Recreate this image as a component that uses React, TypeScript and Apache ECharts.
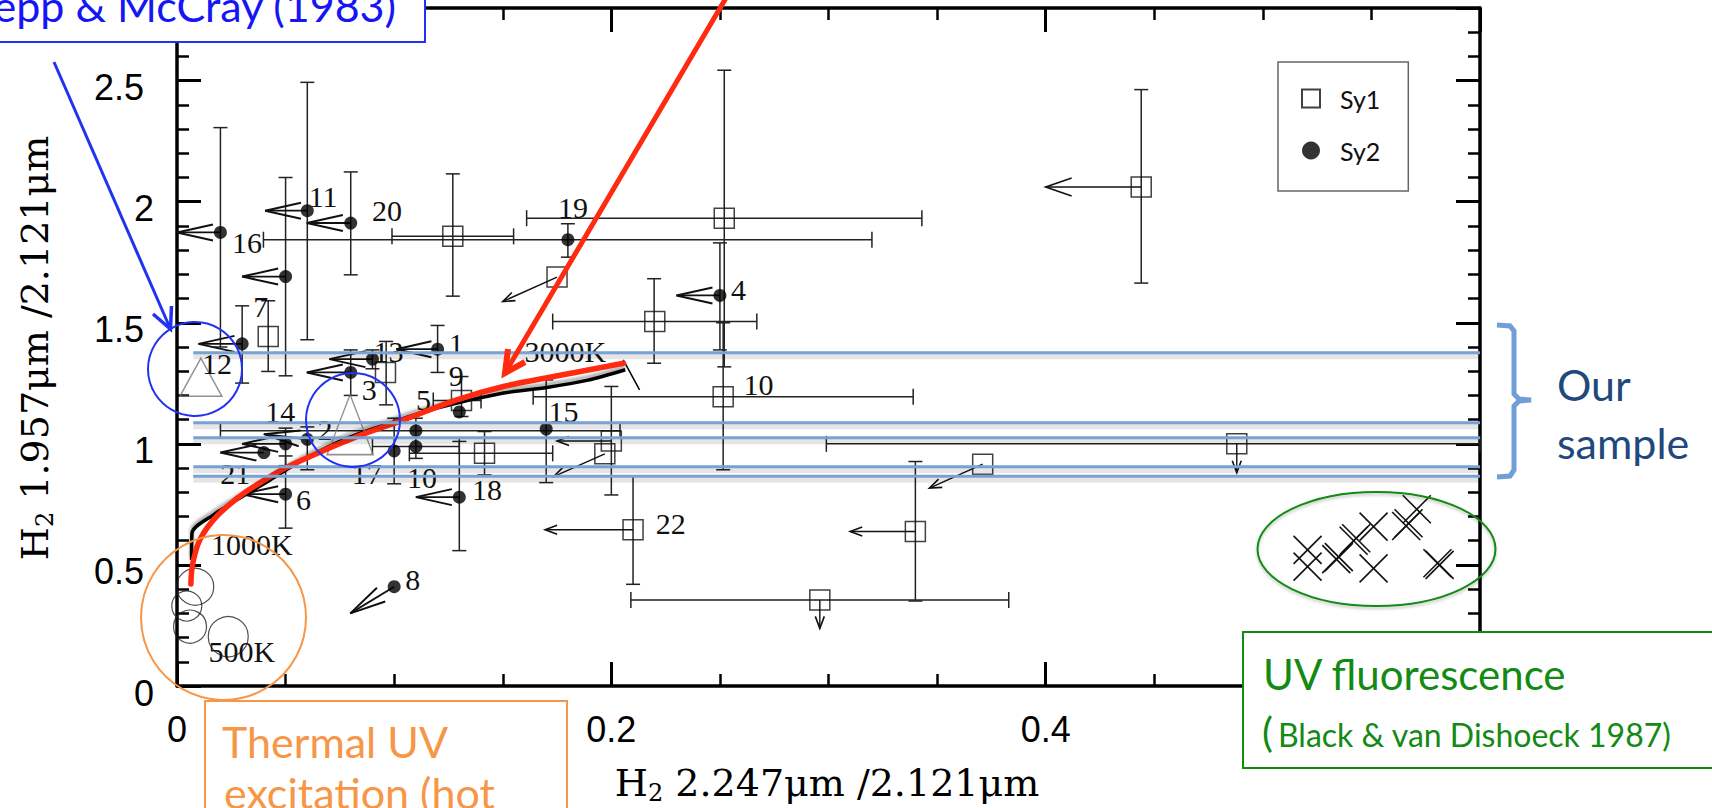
import React, { useEffect, useRef } from 'react';
import * as echarts from 'echarts';

// ---------- tick labels ----------
const X_TICK_LABELS = ['0', '0.2', '0.4'];
const Y_TICK_LABELS = ['0', '0.5', '1', '1.5', '2', '2.5'];

// ---------- Seyfert 1 (open squares) ----------
const sy1Points = [
  [0.127, 1.857], [0.042, 1.443], [0.175, 1.689], [0.220, 1.505], [0.096, 1.295],
  [0.131, 1.179], [0.1416, 0.961], [0.200, 1.012], [0.197, 0.959], [0.2515, 1.195],
  [0.210, 0.645], [0.340, 0.638], [0.296, 0.355], [0.371, 0.916], [0.488, 1.000],
  [0.444, 2.061], [0.252, 1.932],
];

// ---------- Seyfert 2 (filled dots) ----------
const sy2Points = [
  [0.020, 1.873], [0.060, 1.963], [0.080, 1.912], [0.050, 1.691], [0.030, 1.413],
  [0.120, 1.391], [0.090, 1.350], [0.080, 1.295], [0.130, 1.132], [0.110, 1.054],
  [0.110, 0.989], [0.170, 1.061], [0.100, 0.971], [0.130, 0.780], [0.050, 0.792],
  [0.050, 1.000], [0.040, 0.964], [0.060, 1.019], [0.100, 0.410], [0.250, 1.613],
  [0.180, 1.843],
];

// vertical error bars: [x, yLow, yHigh]
const vErrBars = [
  [0.020, 1.40, 2.306], [0.060, 1.43, 2.493], [0.080, 1.698, 2.123], [0.050, 1.281, 2.10],
  [0.030, 1.251, 1.570], [0.120, 1.295, 1.489], [0.090, 1.31, 1.388], [0.080, 1.20, 1.388],
  [0.127, 1.61, 2.115], [0.042, 1.299, 1.591], [0.180, 1.771, 1.909], [0.252, 1.318, 2.543],
  [0.250, 1.388, 1.83], [0.2515, 0.893, 1.5], [0.2197, 1.333, 1.682], [0.444, 1.664, 2.463],
  [0.0963, 1.161, 1.423], [0.131, 1.113, 1.278], [0.110, 0.94, 1.106], [0.170, 0.840, 1.264],
  [0.100, 0.835, 1.106], [0.130, 0.559, 1.01], [0.050, 0.652, 0.95], [0.050, 0.91, 1.065],
  [0.060, 0.893, 1.07], [0.1416, 0.872, 1.051], [0.200, 0.789, 1.237], [0.210, 0.420, 0.868],
  [0.340, 0.351, 0.927],
];

// horizontal error bars: [xLow, y, xHigh]
const hErrBars = [
  [0.099, 1.857, 0.155], [0.0398, 1.843, 0.320], [0.161, 1.932, 0.343], [0.173, 1.505, 0.267],
  [0.164, 1.195, 0.339], [0.020, 1.054, 0.204], [0.090, 0.989, 0.130], [0.107, 0.961, 0.173],
  [0.118, 1.179, 0.140], [0.209, 0.355, 0.383], [0.299, 1.000, 0.600],
];

// limit arrows: [xFrom, yFrom, xTo, yTo, kind]
const limitArrows = [
  [0.020, 1.873, 0.0, 1.873, 0], [0.060, 1.963, 0.0406, 1.963, 0], [0.080, 1.912, 0.0598, 1.912, 0],
  [0.050, 1.691, 0.030, 1.691, 0], [0.030, 1.413, 0.0099, 1.413, 0], [0.120, 1.391, 0.101, 1.391, 0],
  [0.090, 1.350, 0.0702, 1.350, 0], [0.080, 1.295, 0.0598, 1.295, 0], [0.130, 0.780, 0.110, 0.780, 0],
  [0.050, 0.792, 0.030, 0.792, 0], [0.050, 1.000, 0.030, 1.000, 0], [0.060, 1.019, 0.040, 1.040, 0],
  [0.040, 0.964, 0.020, 0.964, 0], [0.250, 1.613, 0.230, 1.613, 0], [0.100, 0.410, 0.0798, 0.300, 0],
  [0.175, 1.689, 0.150, 1.588, 1], [0.200, 1.012, 0.175, 1.012, 1], [0.197, 0.959, 0.1734, 0.865, 1],
  [0.210, 0.645, 0.1695, 0.645, 1], [0.340, 0.638, 0.310, 0.638, 1], [0.296, 0.355, 0.296, 0.238, 1],
  [0.371, 0.916, 0.3465, 0.817, 1], [0.488, 1.000, 0.488, 0.881, 1], [0.444, 2.061, 0.400, 2.061, 2],
];

// thermal model curve
const thermalCurve = [
  [0.0067, 0.52], [0.0069, 0.631], [0.0168, 0.707], [0.0276, 0.769], [0.0429, 0.851],
  [0.0581, 0.934], [0.0765, 1.017], [0.0982, 1.086], [0.1197, 1.148], [0.1503, 1.210],
  [0.1703, 1.233], [0.1887, 1.262], [0.2064, 1.306],
];
const curveEndMark = [[0.2055, 1.347], [0.2130, 1.223]];

// red hand-drawn curve
const redCurve = [
  [0.0064, 0.421], [0.0076, 0.521], [0.0122, 0.631], [0.023, 0.741], [0.0429, 0.865],
  [0.0613, 0.948], [0.0828, 1.030], [0.1043, 1.099], [0.1289, 1.182], [0.1503, 1.237],
  [0.1734, 1.278], [0.2056, 1.333],
];

// shock models (open circles) and their sizes
const shockCircles = [[0.0084, 0.410], [0.0045, 0.33], [0.006, 0.245], [0.0236, 0.204]];
const shockCircleSizes = [37, 30, 33, 40];

// Lepp & McCray triangles and sizes
const triangles = [[0.011, 1.275], [0.0797, 1.079]];
const triangleSizes = [[42, 38], [46, 60]];

// UV fluorescence models (crosses)
const uvCrosses = [
  [0.5206, 0.562], [0.5206, 0.493], [0.5338, 0.524], [0.5350, 0.532], [0.5430, 0.610],
  [0.5418, 0.600], [0.551, 0.658], [0.551, 0.486], [0.566, 0.661], [0.5671, 0.672],
  [0.5709, 0.730], [0.5814, 0.500], [0.5804, 0.507],
];

// "our sample" ratios (horizontal lines)
const ourSampleY = [1.376, 1.087, 1.025, 0.905, 0.866];

// point labels
const pointLabels = [
  [0.0322, 1.832], [0.0673, 2.022], [0.0967, 1.963], [0.1824, 1.975], [0.0386, 1.567],
  [0.0184, 1.331], [0.0974, 1.381], [0.1286, 1.416], [0.0885, 1.226], [0.1286, 1.281],
  [0.1135, 1.182], [0.0475, 1.133], [0.0682, 1.058], [0.0268, 0.879], [0.0874, 0.879],
  [0.1128, 0.862], [0.1427, 0.813], [0.0582, 0.771], [0.178, 1.133], [0.1086, 0.441],
  [0.2586, 1.639], [0.2678, 1.244], [0.2274, 0.672], [0.1788, 1.381], [0.0345, 0.583],
  [0.0298, 0.1426],
];
const pointLabelTexts = [
  '16', '11', '20', '19', '7', '12', '13', '1', '3', '9', '5', '14', '2', '21', '17',
  '10', '18', '6', '15', '8', '4', '10', '22', '3000K', '1000K', '500K',
];

const INK = '#111';

const mkX = (pos: string, labels: boolean) => ({
  type: 'value', position: pos, min: 0, max: 0.6, interval: 0.2,
  axisLine: { show: true, onZero: false, lineStyle: { color: '#000', width: 3.5 } },
  axisTick: { show: true, inside: true, length: 24, lineStyle: { color: '#000', width: 3 } },
  minorTick: { show: true, splitNumber: 4, length: 12, lineStyle: { color: '#000', width: 2.5 } },
  splitLine: { show: false }, minorSplitLine: { show: false },
  axisLabel: labels ? {
    show: true, fontSize: 36, color: '#000', margin: 25, fontFamily: 'Liberation Sans',
    formatter: (v: number) => {
      const i = Math.round(v / 0.2);
      return Math.abs(v - i * 0.2) < 1e-6 && X_TICK_LABELS[i] ? X_TICK_LABELS[i] : '';
    },
  } : { show: false },
});

const mkYMajor = (pos: string, labels: boolean) => ({
  type: 'value', position: pos, min: 0, max: 2.8, interval: 0.5,
  axisLine: { show: true, onZero: false, lineStyle: { color: '#000', width: 3.5 } },
  axisTick: { show: true, inside: true, length: 24, lineStyle: { color: '#000', width: 3 } },
  splitLine: { show: false },
  axisLabel: labels ? {
    show: true, margin: 23,
    formatter: (v: number) => {
      const i = Math.round(v / 0.5);
      if (Math.abs(v - i * 0.5) > 1e-6 || !Y_TICK_LABELS[i]) return '';
      return i % 2 === 0 ? `{i|${Y_TICK_LABELS[i]}}` : `{h|${Y_TICK_LABELS[i]}}`;
    },
    rich: {
      i: { fontSize: 36, fontFamily: 'Liberation Sans', color: '#000', padding: [14, 0, 0, 0] },
      h: { fontSize: 36, fontFamily: 'Liberation Sans', color: '#000', padding: [14, 10, 0, 0] },
    },
  } : { show: false },
});

const mkYMinor = (pos: string) => ({
  type: 'value', position: pos, min: 0, max: 2.8, interval: 0.1,
  axisLine: { show: false, onZero: false },
  axisTick: { show: true, inside: true, length: 12, lineStyle: { color: '#000', width: 2.5 } },
  splitLine: { show: false },
  axisLabel: { show: false },
});

const line = (x1: number, y1: number, x2: number, y2: number, style: any) =>
  ({ type: 'line', shape: { x1, y1, x2, y2 }, style });

const BLUE = '#1f33f0';
const ORANGE = '#f79646';
const GREEN = '#138a13';
const DARKBLUE = '#1f497d';

const graphicElements: any[] = [
  // bracket
  {
    type: 'polyline',
    shape: { points: [[1497, 325], [1510, 326], [1514, 331], [1514, 394], [1519, 399], [1531, 400], [1519, 401], [1514, 406], [1514, 470], [1510, 476], [1497, 477]] },
    style: { stroke: '#6f9fd6', lineWidth: 5, fill: 'none' },
  },
  { type: 'text', x: 1557, y: 384, style: { text: 'Our', fontSize: 43, fontFamily: 'Lato', fill: DARKBLUE, textAlign: 'left', textVerticalAlign: 'middle' } },
  { type: 'text', x: 1557, y: 442, style: { text: 'sample', fontSize: 43, fontFamily: 'Lato', fill: DARKBLUE, textAlign: 'left', textVerticalAlign: 'middle' } },
  // circles
  { type: 'circle', shape: { cx: 195, cy: 369, r: 47 }, style: { fill: 'none', stroke: BLUE, lineWidth: 2 } },
  { type: 'circle', shape: { cx: 353, cy: 420, r: 47 }, style: { fill: 'none', stroke: BLUE, lineWidth: 2 } },
  { type: 'circle', shape: { cx: 223.5, cy: 617.5, r: 82.5 }, style: { fill: 'none', stroke: ORANGE, lineWidth: 2 } },
  { type: 'ellipse', shape: { cx: 1376.5, cy: 549, rx: 119, ry: 57 }, style: { fill: 'none', stroke: GREEN, lineWidth: 2, shadowBlur: 3, shadowColor: 'rgba(0,0,0,0.25)', shadowOffsetY: 2 } },
  // red arrow
  line(726, -2, 505, 373, { stroke: '#ff2a0f', lineWidth: 5, lineCap: 'round' }),
  { type: 'polyline', shape: { points: [[508, 349], [505, 373], [525, 362]] }, style: { stroke: '#ff2a0f', lineWidth: 6, fill: 'none', lineJoin: 'miter' } },
  // blue arrow
  line(54, 62, 170, 328, { stroke: BLUE, lineWidth: 3 }),
  { type: 'polyline', shape: { points: [[153, 314], [170.5, 329], [171.5, 306]] }, style: { stroke: BLUE, lineWidth: 3.5, fill: 'none' } },
  // blue box
  { type: 'rect', shape: { x: -5, y: -5, width: 430, height: 47 }, style: { fill: '#fff', stroke: BLUE, lineWidth: 2 } },
  { type: 'text', z: 101, x: 396, y: 5, style: { text: 'Lepp & McCray (1983)', fontSize: 43, fontFamily: 'Lato', fill: '#1515f5', textAlign: 'right', textVerticalAlign: 'middle' } },
  // orange box
  { type: 'rect', shape: { x: 205, y: 701, width: 362, height: 150 }, style: { fill: '#fff', stroke: ORANGE, lineWidth: 2 } },
  { type: 'text', z: 101, x: 222, y: 741, style: { text: 'Thermal UV', fontSize: 43, fontFamily: 'Lato', fill: ORANGE, textAlign: 'left', textVerticalAlign: 'middle' } },
  { type: 'text', z: 101, x: 224, y: 792, style: { text: 'excitation (hot', fontSize: 43, fontFamily: 'Lato', fill: ORANGE, textAlign: 'left', textVerticalAlign: 'middle' } },
  // green box
  { type: 'rect', shape: { x: 1243, y: 632, width: 500, height: 136 }, style: { fill: '#fff', stroke: GREEN, lineWidth: 2 } },
  { type: 'text', z: 101, x: 1263, y: 674, style: { text: 'UV fluorescence', fontSize: 42, fontFamily: 'Lato', fill: GREEN, textAlign: 'left', textVerticalAlign: 'middle' } },
  { type: 'text', z: 101, x: 1262, y: 731, style: { text: '(', fontSize: 41, fontFamily: 'Lato', fill: GREEN, textAlign: 'left', textVerticalAlign: 'middle' } },
  { type: 'text', z: 101, x: 1278, y: 734, style: { text: 'Black & van Dishoeck 1987)', fontSize: 32, fontFamily: 'Lato', fill: GREEN, textAlign: 'left', textVerticalAlign: 'middle' } },
  // axis titles
  {
    type: 'text', z: 101, x: 827, y: 783,
    style: {
      text: '{a|H}{s|2}{a| 2.247μm /2.121μm}', textAlign: 'center', textVerticalAlign: 'middle', fill: '#000',
      rich: {
        a: { fontSize: 38, fontFamily: 'DejaVu Serif', fill: '#000' },
        s: { fontSize: 24, fontFamily: 'DejaVu Serif', fill: '#000', padding: [20, 0, 0, 0] },
      },
    },
  },
  {
    type: 'text', z: 101, x: 35, y: 348, rotation: Math.PI / 2,
    style: {
      text: '{a|H}{s|2}{a| 1.957μm /2.121μm}', textAlign: 'center', textVerticalAlign: 'middle', fill: '#000',
      rich: {
        a: { fontSize: 38, fontFamily: 'DejaVu Serif', fill: '#000' },
        s: { fontSize: 24, fontFamily: 'DejaVu Serif', fill: '#000', padding: [20, 0, 0, 0] },
      },
    },
  },
];
graphicElements.forEach((e) => { if (e.z === undefined) e.z = 100; });

const option: any = {
  animation: false,
  backgroundColor: '#fff',
  textStyle: { fontFamily: 'Liberation Sans' },
  grid: { left: 177, right: 232, top: 8, bottom: 122, containLabel: false },
  legend: {
    data: ['Sy1', 'Sy2'], orient: 'vertical', left: 1278, top: 62, selectedMode: false,
    padding: [24, 28, 28, 23], itemGap: 27, itemWidth: 18, itemHeight: 18,
    backgroundColor: '#fff', borderColor: '#666', borderWidth: 1.5,
    textStyle: { fontFamily: 'Lato', fontSize: 25, color: '#111', padding: [0, 0, 0, 15] },
  },
  xAxis: [mkX('bottom', true), mkX('top', false)],
  yAxis: [mkYMajor('left', true), mkYMinor('left'), mkYMajor('right', false), mkYMinor('right')],
  series: [
    {
      name: 'ourSample', type: 'custom', z: 20, silent: true,
      data: ourSampleY.map((v) => [0.0075, v, 0.6]),
      renderItem: (params: any, api: any) => {
        const a = api.coord([api.value(0), api.value(1)]);
        const b = api.coord([api.value(2), api.value(1)]);
        return {
          type: 'group', children: [
            { type: 'line', shape: { x1: a[0], y1: a[1] + 3, x2: b[0], y2: b[1] + 3 }, style: { stroke: 'rgba(0,0,0,0.10)', lineWidth: 7 } },
            { type: 'line', shape: { x1: a[0], y1: a[1], x2: b[0], y2: b[1] }, style: { stroke: '#79a1d3', lineWidth: 3 } },
          ],
        };
      },
    },
    {
      name: 'vErr', type: 'custom', z: 3, silent: true, data: vErrBars,
      renderItem: (params: any, api: any) => {
        const a = api.coord([api.value(0), api.value(1)]);
        const b = api.coord([api.value(0), api.value(2)]);
        const st = { stroke: '#222', lineWidth: 1.5 };
        return {
          type: 'group', children: [
            { type: 'line', shape: { x1: a[0], y1: a[1], x2: b[0], y2: b[1] }, style: st },
            { type: 'line', shape: { x1: a[0] - 7, y1: a[1], x2: a[0] + 7, y2: a[1] }, style: st },
            { type: 'line', shape: { x1: b[0] - 7, y1: b[1], x2: b[0] + 7, y2: b[1] }, style: st },
          ],
        };
      },
    },
    {
      name: 'hErr', type: 'custom', z: 3, silent: true, data: hErrBars,
      renderItem: (params: any, api: any) => {
        const a = api.coord([api.value(0), api.value(1)]);
        const b = api.coord([api.value(2), api.value(1)]);
        const st = { stroke: '#222', lineWidth: 1.5 };
        return {
          type: 'group', children: [
            { type: 'line', shape: { x1: a[0], y1: a[1], x2: b[0], y2: b[1] }, style: st },
            { type: 'line', shape: { x1: a[0], y1: a[1] - 8, x2: a[0], y2: a[1] + 8 }, style: st },
            { type: 'line', shape: { x1: b[0], y1: b[1] - 8, x2: b[0], y2: b[1] + 8 }, style: st },
          ],
        };
      },
    },
    {
      name: 'limits', type: 'custom', z: 3, silent: true, data: limitArrows,
      renderItem: (params: any, api: any) => {
        const p0 = api.coord([api.value(0), api.value(1)]);
        const p1 = api.coord([api.value(2), api.value(3)]);
        const kind = api.value(4);
        const dx = p0[0] - p1[0], dy = p0[1] - p1[1];
        const L = Math.hypot(dx, dy) || 1;
        const ux = dx / L, uy = dy / L;
        const hl = kind === 0 ? Math.min(36, 0.85 * L) : kind === 1 ? 12 : 26;
        const hw = kind === 0 ? 8 : kind === 1 ? 4.5 : 9;
        const bx = p1[0] + ux * hl, by = p1[1] + uy * hl;
        const nx = -uy, ny = ux;
        const lw = kind === 0 ? 1.8 : 1.4;
        return {
          type: 'group', children: [
            { type: 'line', shape: { x1: p0[0], y1: p0[1], x2: p1[0], y2: p1[1] }, style: { stroke: INK, lineWidth: lw } },
            { type: 'polyline', shape: { points: [[bx + nx * hw, by + ny * hw], [p1[0], p1[1]], [bx - nx * hw, by - ny * hw]] }, style: { stroke: INK, fill: 'none', lineWidth: lw + 0.2 } },
          ],
        };
      },
    },
    {
      name: 'thermal', type: 'line', z: 4, silent: true, data: thermalCurve, symbol: 'none', smooth: 0.3,
      lineStyle: { color: '#000', width: 3.5, shadowBlur: 3, shadowColor: 'rgba(0,0,0,0.35)', shadowOffsetY: -3 },
    },
    {
      name: 'thermalEnd', type: 'line', z: 4, silent: true, data: curveEndMark, symbol: 'none',
      lineStyle: { color: '#000', width: 1.5 },
    },
    {
      name: 'redCurve', type: 'line', z: 6, silent: true, data: redCurve, symbol: 'none', smooth: 0.4,
      lineStyle: { color: '#ff2a0f', width: 5.5, cap: 'round' },
    },
    {
      name: 'Sy1', type: 'scatter', z: 5, data: sy1Points, symbol: 'rect', symbolSize: 20,
      itemStyle: { color: 'rgba(255,255,255,0)', borderColor: INK, borderWidth: 1.5 },
    },
    {
      name: 'Sy2', type: 'scatter', z: 5, data: sy2Points, symbol: 'circle', symbolSize: 13,
      itemStyle: { color: '#000' },
    },
    {
      name: 'triangles', type: 'scatter', z: 5, silent: true, data: triangles, symbol: 'triangle',
      symbolSize: (v: any, p: any) => triangleSizes[p.dataIndex],
      itemStyle: { color: 'rgba(255,255,255,0)', borderColor: '#777', borderWidth: 1.5 },
    },
    {
      name: 'shock', type: 'scatter', z: 5, silent: true, data: shockCircles, symbol: 'circle',
      symbolSize: (v: any, p: any) => shockCircleSizes[p.dataIndex],
      itemStyle: { color: 'rgba(255,255,255,0)', borderColor: '#222', borderWidth: 1.2 },
    },
    {
      name: 'uv', type: 'custom', z: 5, silent: true, data: uvCrosses,
      renderItem: (params: any, api: any) => {
        const p = api.coord([api.value(0), api.value(1)]);
        const h = 14;
        const st = { stroke: '#111', lineWidth: 1.6 };
        return {
          type: 'group', children: [
            { type: 'line', shape: { x1: p[0] - h, y1: p[1] - h, x2: p[0] + h, y2: p[1] + h }, style: st },
            { type: 'line', shape: { x1: p[0] - h, y1: p[1] + h, x2: p[0] + h, y2: p[1] - h }, style: st },
          ],
        };
      },
    },
    {
      name: 'labels', type: 'custom', z: 6, silent: true, data: pointLabels,
      renderItem: (params: any, api: any) => {
        const p = api.coord([api.value(0), api.value(1)]);
        return {
          type: 'text', x: p[0], y: p[1],
          style: { text: pointLabelTexts[params.dataIndex], fontSize: 30, fontFamily: 'Liberation Serif', fill: '#111', textAlign: 'center', textVerticalAlign: 'middle' },
        };
      },
    },
  ],
  graphic: { elements: graphicElements },
};

export default function App() {
  const ref = useRef<HTMLDivElement>(null);
  useEffect(() => {
    document.body.style.margin = '0';
    const chart = echarts.init(ref.current as HTMLDivElement, null, { renderer: 'svg' });
    chart.setOption(option);
    return () => chart.dispose();
  }, []);
  return (
    <div
      ref={ref}
      style={{ position: 'absolute', left: 0, top: 0, width: 1712, height: 808, background: '#fff' }}
    />
  );
}
